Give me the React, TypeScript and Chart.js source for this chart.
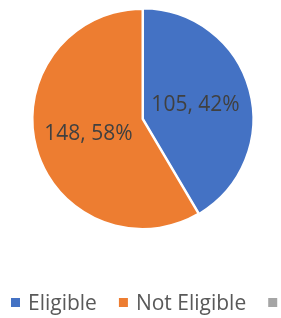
import React, { useEffect, useRef } from "react";
import { Chart, registerables } from "chart.js";

Chart.register(...registerables);

const categories = ["Eligible", "Not Eligible", ""];
const values = [105, 148, 0];
const percentLabels = ["42%", "58%", ""];
const colors = ["#4472C4", "#ED7D31", "#A5A5A5"];
const offsets = [2, 0, 0];

const FONT = "'Open Sans', 'Noto Sans', sans-serif";

const dataLabelPlugin = {
  id: "dataLabels",
  afterDatasetsDraw(chart: any) {
    const ctx = chart.ctx;
    const meta = chart.getDatasetMeta(0);
    ctx.save();
    ctx.font = `21px ${FONT}`;
    ctx.fillStyle = "#404040";
    ctx.textAlign = "center";
    ctx.textBaseline = "middle";
    meta.data.forEach((arc: any, i: number) => {
      const v = values[i];
      if (!v) return;
      const p = arc.tooltipPosition(true);
      ctx.fillText(`${v}, ${percentLabels[i]}`, p.x - 1, p.y + 1);
    });
    ctx.restore();
  },
};

const legendPlugin = {
  id: "customLegend",
  afterDraw(chart: any) {
    const ctx = chart.ctx;
    ctx.save();
    ctx.font = `21px ${FONT}`;
    ctx.textBaseline = "alphabetic";
    ctx.textAlign = "left";
    const box = 9;
    const gapText = 8;
    const gapItem = 22;
    let x = 11;
    const baseline = 310;
    categories.forEach((label, i) => {
      ctx.fillStyle = colors[i];
      ctx.fillRect(x, baseline - 12, box, box);
      x += box + gapText;
      if (label) {
        ctx.fillStyle = "#595959";
        ctx.fillText(label, x, baseline);
        x += ctx.measureText(label).width + gapItem;
      }
    });
    ctx.restore();
  },
};

export default function App() {
  const canvasRef = useRef<HTMLCanvasElement | null>(null);

  useEffect(() => {
    document.body.style.margin = "0";
    const canvas = canvasRef.current;
    if (!canvas) return;
    const chart = new Chart(canvas, {
      type: "pie",
      data: {
        labels: categories,
        datasets: [
          {
            data: values,
            backgroundColor: colors,
            borderColor: "#FFFFFF",
            borderWidth: 2,
            offset: offsets,
          },
        ],
      },
      options: {
        animation: false,
        responsive: true,
        maintainAspectRatio: false,
        layout: { padding: { top: 7, left: 4, right: 0, bottom: 87 } },
        plugins: {
          legend: { display: false },
          tooltip: { enabled: false },
        },
      },
      plugins: [dataLabelPlugin, legendPlugin],
    });
    return () => chart.destroy();
  }, []);

  return (
    <div style={{ width: 281, height: 318, position: "relative", background: "#fff" }}>
      <canvas ref={canvasRef} />
    </div>
  );
}
